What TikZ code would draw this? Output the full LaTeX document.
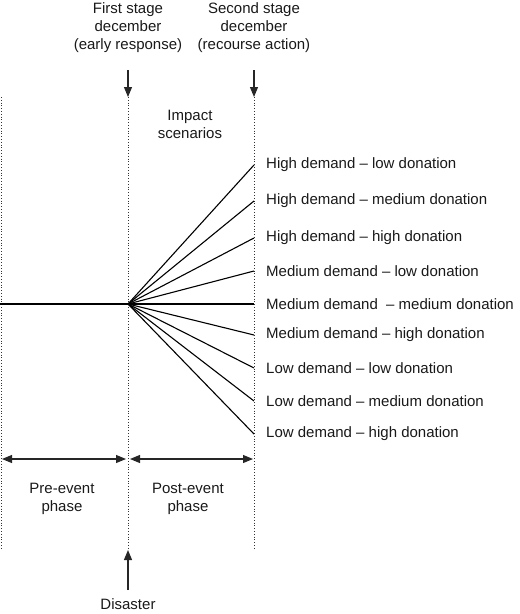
\documentclass[tikz,border=0pt]{standalone}
\usepackage{fontspec}
\setmainfont{Liberation Sans}
\usetikzlibrary{arrows.meta}
\tikzset{
  lbl/.style={font=\fontsize{15}{18}\selectfont, text=black!90, inner sep=0pt, align=center},
  scen/.style={font=\fontsize{15}{18}\selectfont, text=black!90, inner sep=0pt, anchor=west},
  dotline/.style={dotted, line width=0.8pt, black!80},
  fan/.style={line width=1.1pt, black},
  arr/.style={line width=1.1pt, black!85, -{Triangle[width=8pt,length=10pt]}},
  darr/.style={line width=1.1pt, black!85, {Triangle[width=8pt,length=10pt]}-{Triangle[width=8pt,length=10pt]}}
}
\begin{document}
\begin{tikzpicture}[x=1pt,y=-1pt]
\useasboundingbox (0,0) rectangle (520,614);
% top labels
\node[lbl] (first) at (128,28) {First stage\\december\\(early response)};
\node[lbl] (second) at (254,28) {Second stage\\december\\(recourse action)};
\node[lbl] (impact) at (190,124) {Impact\\scenarios};
% coordinates
\coordinate (a1) at (128,70);
\coordinate (a1t) at (128,97);
\coordinate (a2) at (254,70);
\coordinate (a2t) at (254,97);
\coordinate (lt) at (1,97);
\coordinate (lb) at (1,548);
\coordinate (mt) at (128,97);
\coordinate (mb) at (128,550);
\coordinate (rt) at (254,97);
\coordinate (rb) at (254,548);
\coordinate (start) at (0,304);
\coordinate (hub) at (128,304);
% dotted phase lines
\draw[dotline] (lt) -- (lb);
\draw[dotline] (mt) -- (mb);
\draw[dotline] (rt) -- (rb);
% stage arrows
\draw[arr] (a1) -- (a1t);
\draw[arr] (a2) -- (a2t);
% scenarios
\foreach \i/\y/\t in {
  1/165/{High demand -- low donation},
  2/201/{High demand -- medium donation},
  3/238/{High demand -- high donation},
  4/271/{Medium demand -- low donation},
  5/304/{Medium demand \ -- medium donation},
  6/335/{Medium demand -- high donation},
  7/368/{Low demand -- low donation},
  8/401/{Low demand -- medium donation},
  9/434/{Low demand -- high donation}} {
  \coordinate (e\i) at (254,\y);
  \node[scen] (s\i) at (266,\y) {\t};
  \draw[fan] (hub) -- (e\i);
}
\draw[fan] (start) -- (hub);
% phase arrows
\coordinate (p1) at (2,459);
\coordinate (p2) at (126,459);
\coordinate (p3) at (130,459);
\coordinate (p4) at (253,459);
\draw[darr] (p1) -- (p2);
\draw[darr] (p3) -- (p4);
\node[lbl] (pre) at (62,499) {Pre-event\\phase};
\node[lbl] (post) at (188,499) {Post-event\\phase};
% disaster
\node[lbl] (dis) at (128,604) {Disaster};
\coordinate (d0) at (128,590);
\draw[arr] (d0) -- (mb);
\end{tikzpicture}
\end{document}
